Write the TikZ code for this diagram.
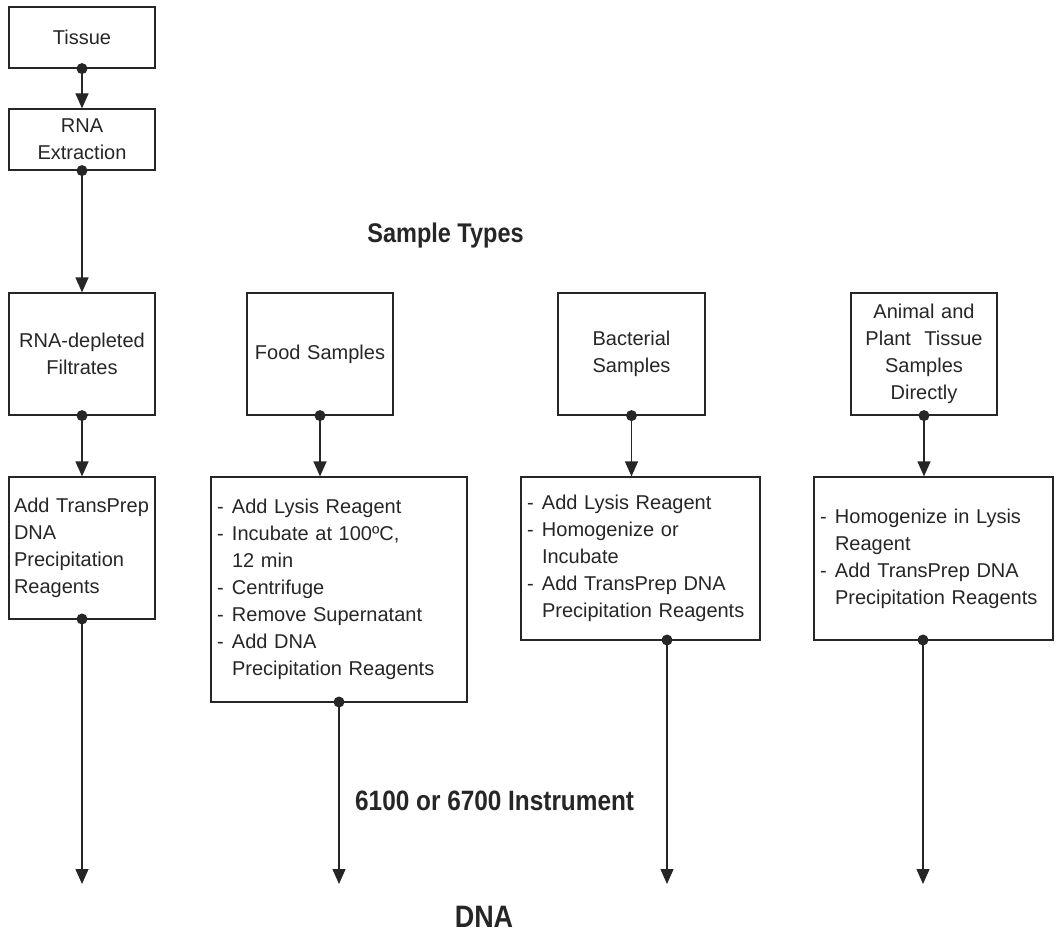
\documentclass[tikz,border=0pt]{standalone}
\usepackage{fontspec}
\setmainfont{Liberation Sans}
\newfontfamily\condfont[FakeStretch=0.87]{Liberation Sans}
\usetikzlibrary{arrows.meta}
\newcommand{\bitem}[1]{\makebox[15pt][l]{-}#1}
\newcommand{\bcont}[1]{\hspace*{15pt}#1}
\colorlet{ink}{black!85}
\tikzset{
  box/.style={draw=ink, line width=1.2pt, inner xsep=6pt, inner ysep=0pt,
    font=\fontsize{20}{27}\selectfont, text=ink},
  cbox/.style={box, align=center},
  lbox/.style={box, align=left},
  conn/.style={draw=ink, line width=1.2pt, -{Triangle[width=13pt,length=15pt]}},
  dot/.style={fill=ink},
  head/.style={font=\condfont\bfseries\fontsize{27}{30}\selectfont, text=ink, inner sep=0pt},
}
\begin{document}
\begin{tikzpicture}[x=1pt,y=-1pt]
\useasboundingbox (0,0) rectangle (1057,936);

% top column
\node[cbox, text width=134pt, minimum height=61pt] (tissue) at (82,37.5) {Tissue};
\node[cbox, text width=134pt, minimum height=61pt] (rna) at (82,139.5) {RNA\\Extraction};

% sample types row
\node[cbox, text width=134pt, minimum height=122pt] (dep) at (82,354) {RNA-depleted\\Filtrates};
\node[cbox, text width=134pt, minimum height=122pt] (food) at (320,354) {Food Samples};
\node[cbox, text width=135pt, minimum height=122pt] (bact) at (631.5,354) {Bacterial\\Samples};
\node[cbox, text width=134pt, minimum height=122pt] (anim) at (924,354) {Animal and\\Plant\ \ Tissue\\Samples\\Directly};

% procedure row
\node[lbox, inner xsep=5pt, text width=136pt, minimum height=142pt] (pdep) at (82,548)
  {Add TransPrep\\DNA\\Precipitation\\Reagents};
\node[lbox, text width=244pt, minimum height=225pt] (pfood) at (339,589.5)
  {\bitem{Add Lysis Reagent}\\\bitem{Incubate at 100ºC,}\\\bcont{12 min}\\\bitem{Centrifuge}\\\bitem{Remove Supernatant}\\\bitem{Add DNA}\\\bcont{Precipitation Reagents}};
\node[lbox, text width=227pt, minimum height=163pt] (pbact) at (640.5,558.5)
  {\bitem{Add Lysis Reagent}\\\bitem{Homogenize or}\\\bcont{Incubate}\\\bitem{Add TransPrep DNA}\\\bcont{Precipitation Reagents}};
\node[lbox, text width=227pt, minimum height=163pt] (panim) at (933.5,558.5)
  {\bitem{Homogenize in Lysis}\\\bcont{Reagent}\\\bitem{Add TransPrep DNA}\\\bcont{Precipitation Reagents}};

% headings
\node[head, anchor=base] (st) at (445.5,242) {Sample Types};
\node[head, font=\condfont\bfseries\fontsize{28}{30}\selectfont, anchor=base west] (inst) at (355,810) {6100 or 6700 Instrument};
\node[head, font=\condfont\bfseries\fontsize{31}{34}\selectfont, anchor=base] (dna) at (484,927) {DNA};

% bottom dots and ends
\coordinate (b1) at (82,619);
\coordinate (b2) at (339,702);
\coordinate (b3) at (667,640);
\coordinate (b4) at (923,640);
\coordinate (e1) at (82,884);
\coordinate (e2) at (339,884);
\coordinate (e3) at (667,884);
\coordinate (e4) at (923,884);

% connectors
\draw[conn] (tissue.south) -- (rna.north);
\draw[conn] (rna.south) -- (dep.north);
\draw[conn] (dep.south) -- (pdep.north);
\draw[conn] (food.south) -- (food.south |- pfood.north);
\draw[conn] (bact.south) -- (bact.south |- pbact.north);
\draw[conn] (anim.south) -- (anim.south |- panim.north);
\draw[conn] (b1) -- (e1);
\draw[conn] (b2) -- (e2);
\draw[conn] (b3) -- (e3);
\draw[conn] (b4) -- (e4);

% dots
\foreach \p in {tissue.south, rna.south, dep.south, food.south, bact.south, anim.south, b1, b2, b3, b4}
  \fill[dot] (\p) circle (5.5pt);
\end{tikzpicture}
\end{document}
